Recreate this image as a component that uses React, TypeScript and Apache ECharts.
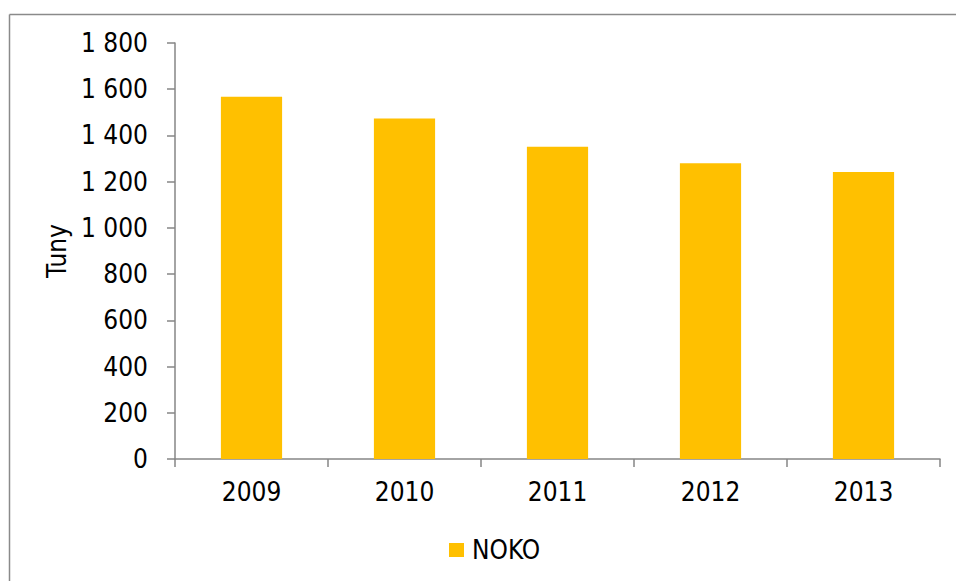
import React, { useEffect, useRef } from "react";
import * as echarts from "echarts";

const categories = ["2009", "2010", "2011", "2012", "2013"];
const nokoValues = [1567, 1473, 1351, 1280, 1242];
const seriesName = "NOKO";
const yAxisName = "Tuny";

const FONT = "'DejaVu Sans Condensed', 'Liberation Sans', sans-serif";

export default function App() {
  const ref = useRef<HTMLDivElement>(null);
  useEffect(() => {
    if (!ref.current) return;
    const chart = echarts.init(ref.current, null, { renderer: "svg" });
    chart.setOption({
      animation: false,
      backgroundColor: "#ffffff",
      textStyle: { fontFamily: FONT },
      graphic: [
        {
          type: "line",
          shape: { x1: 9.5, y1: 14.5, x2: 960, y2: 14.5 },
          style: { stroke: "#8a8a8a", lineWidth: 1.5 },
          silent: true,
        },
        {
          type: "line",
          shape: { x1: 9.5, y1: 14.5, x2: 9.5, y2: 590 },
          style: { stroke: "#8a8a8a", lineWidth: 1.5 },
          silent: true,
        },
      ],
      grid: { left: 175, right: 16, top: 43, bottom: 122 },
      legend: {
        data: [seriesName],
        left: 449,
        top: 537,
        padding: 0,
        itemWidth: 15,
        itemHeight: 14,
        icon: "rect",
        textStyle: {
          fontFamily: FONT,
          fontSize: 26,
          color: "#000",
          padding: [0, 0, 0, 3],
        },
      },
      xAxis: {
        type: "category",
        data: categories,
        axisLine: { lineStyle: { color: "#868686", width: 1.5 } },
        axisTick: { show: true, length: 8, alignWithLabel: false, lineStyle: { color: "#868686", width: 1.5 } },
        axisLabel: { fontFamily: FONT, fontSize: 26, color: "#000", margin: 20 },
      },
      yAxis: {
        type: "value",
        min: 0,
        max: 1800,
        interval: 200,
        name: yAxisName,
        nameLocation: "middle",
        nameRotate: 90,
        nameGap: 105,
        nameTextStyle: { fontFamily: FONT, fontSize: 26, color: "#000" },
        axisLine: { show: true, lineStyle: { color: "#868686", width: 1.5 } },
        axisTick: { show: true, length: 8, lineStyle: { color: "#868686", width: 1.5 } },
        splitLine: { show: false },
        axisLabel: {
          fontFamily: FONT,
          fontSize: 26,
          color: "#000",
          margin: 27,
          formatter: (v: number) => String(v).replace(/\B(?=(\d{3})+(?!\d))/g, " "),
        },
      },
      series: [
        {
          name: seriesName,
          type: "bar",
          data: nokoValues,
          barCategoryGap: "60%",
          itemStyle: { color: "#FFC000" },
        },
      ],
    });
    return () => chart.dispose();
  }, []);
  return (
    <div
      ref={ref}
      style={{ position: "fixed", left: 0, top: 0, width: 956, height: 581 }}
    />
  );
}
